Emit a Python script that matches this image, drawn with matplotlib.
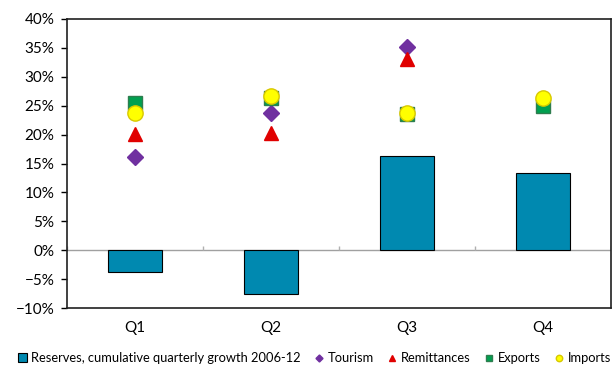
import matplotlib.pyplot as plt
import numpy as np
from matplotlib.ticker import PercentFormatter

plt.rcParams['font.family'] = ['Lato', 'DejaVu Sans']

quarters = ['Q1', 'Q2', 'Q3', 'Q4']
reserves = [-3.8, -7.6, 16.3, 13.4]
tourism = [16.1, 23.7, 35.1, np.nan]
remittances = [20.1, 20.2, 33.0, np.nan]
exports = [25.4, 26.4, 23.5, 24.9]
imports = [23.7, 26.6, 23.7, 26.3]

x = np.arange(len(quarters))

fig = plt.figure(figsize=(6.13, 3.65), dpi=100)
ax = fig.add_axes([0.109, 0.156, 0.888, 0.792])

bars = ax.bar(x, reserves, width=0.4, color='#0089b0', edgecolor='black', linewidth=0.8,
              label='Reserves, cumulative quarterly growth 2006-12', zorder=2)
ax.plot(x, tourism, 'D', color='#7030a0', markersize=8.5, linestyle='none',
        label='Tourism', zorder=3)
ax.plot(x, remittances, '^', color='#e00000', markersize=10, linestyle='none',
        label='Remittances', zorder=3)
ax.plot(x, exports, 's', color='#00a050', markeredgecolor='#2e7d4f', markersize=10,
        linestyle='none', label='Exports', zorder=3)
ax.plot(x, imports, 'o', color='#ffff00', markeredgecolor='#d8c800', markersize=11,
        linestyle='none', label='Imports', zorder=4)

# zero line with small category divider ticks
ax.axhline(0, color='#a0a0a0', linewidth=1, zorder=1)
ax.vlines(np.arange(len(quarters) + 1) - 0.5, 0, 0.8, color='#b0b0b0', linewidth=1, zorder=1)

ax.set_xlim(-0.5, len(quarters) - 0.5)
ax.set_ylim(-10, 40)
ax.set_yticks(np.arange(-10, 41, 5))
ax.yaxis.set_major_formatter(PercentFormatter(decimals=0))
ax.set_xticks(x)
ax.set_xticklabels(quarters)
ax.tick_params(axis='x', length=0, pad=9, labelsize=11)
ax.tick_params(axis='y', direction='out', length=4, width=1, labelsize=11, pad=5)
for s in ax.spines.values():
    s.set_color('#202020')
    s.set_linewidth(1.2)

handles, labels = ax.get_legend_handles_labels()
order = [labels.index('Reserves, cumulative quarterly growth 2006-12')] + \
        [i for i, l in enumerate(labels) if not l.startswith('Reserves')]
ax.legend([handles[i] for i in order], [labels[i] for i in order],
          loc='upper center', bbox_to_anchor=(0.455, -0.13), ncol=5, frameon=False,
          fontsize=9.3, handlelength=0.7, handleheight=0.7, handletextpad=0.3,
          columnspacing=1.1, markerscale=0.42, borderpad=0)

fig.savefig('out.png', dpi=100)
